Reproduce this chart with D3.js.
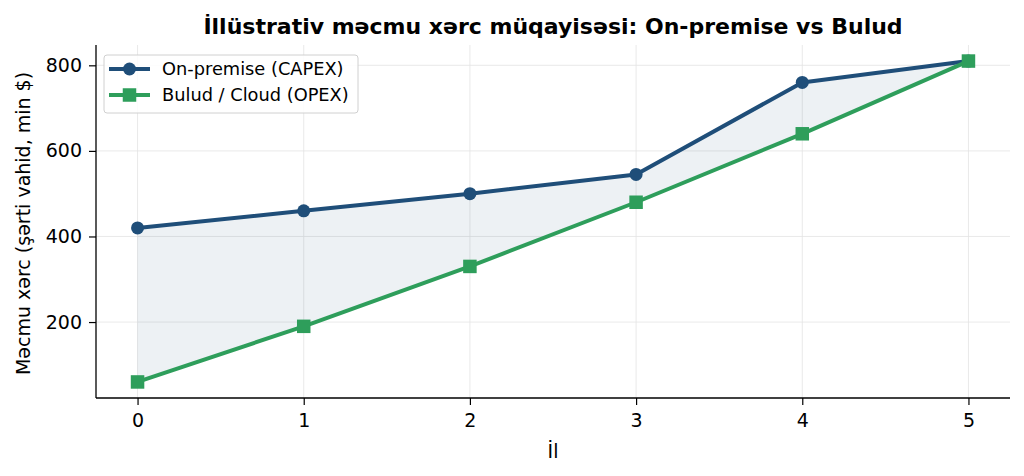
<!DOCTYPE html>
<html lang="az">
<head>
<meta charset="utf-8">
<title>On-premise vs Bulud</title>
<script src="https://d3js.org/d3.v7.min.js"></script>
<style>
  body { margin: 0; background: #fff; }
  text { font-family: "DejaVu Sans", sans-serif; }
</style>
</head>
<body>
<script>
var years = [0, 1, 2, 3, 4, 5];
var onPrem = [420, 460, 500, 545, 760, 810];
var cloud = [60, 190, 330, 480, 640, 810];
var yTicks = [200, 400, 600, 800];
var seriesNames = ["On-premise (CAPEX)", "Bulud / Cloud (OPEX)"];

var width = 1024, height = 476;
var margin = { left: 96, top: 45, right: 14, bottom: 78 };
var innerW = width - margin.left - margin.right;
var innerH = height - margin.top - margin.bottom;

var blue = "#1f4e79", green = "#2e9e5b";

var svg = d3.select("body").append("svg")
    .attr("width", width).attr("height", height);

var g = svg.append("g")
    .attr("transform", `translate(${margin.left},${margin.top})`);

var x = d3.scaleLinear().domain([-0.25, 5.25]).range([0, innerW]);
var y = d3.scaleLinear().domain([22.5, 847.5]).range([innerH, 0]);

// grid
g.selectAll(".vgrid").data(years).enter().append("line")
    .attr("x1", d => x(d)).attr("x2", d => x(d))
    .attr("y1", 0).attr("y2", innerH)
    .attr("stroke", "#e3e3e3").attr("stroke-width", 0.8);
g.selectAll(".hgrid").data(yTicks).enter().append("line")
    .attr("y1", d => y(d)).attr("y2", d => y(d))
    .attr("x1", 0).attr("x2", innerW)
    .attr("stroke", "#e3e3e3").attr("stroke-width", 0.8);

// fill between
var rows = years.map((yr, i) => ({ x: yr, a: onPrem[i], b: cloud[i] }));
g.append("path")
    .datum(rows)
    .attr("d", d3.area().x(d => x(d.x)).y0(d => y(d.b)).y1(d => y(d.a)))
    .attr("fill", blue).attr("fill-opacity", 0.08);

// lines
var line = d3.line().x(d => x(d[0])).y(d => y(d[1]));
g.append("path").datum(years.map((yr, i) => [yr, onPrem[i]]))
    .attr("d", line).attr("fill", "none")
    .attr("stroke", blue).attr("stroke-width", 4).attr("stroke-linejoin", "round");
g.append("path").datum(years.map((yr, i) => [yr, cloud[i]]))
    .attr("d", line).attr("fill", "none")
    .attr("stroke", green).attr("stroke-width", 4).attr("stroke-linejoin", "round");

g.selectAll(".dot").data(years).enter().append("circle")
    .attr("cx", d => x(d)).attr("cy", (d, i) => y(onPrem[i]))
    .attr("r", 6.5).attr("fill", blue);
g.selectAll(".sq").data(years).enter().append("rect")
    .attr("x", d => x(d) - 6.75).attr("y", (d, i) => y(cloud[i]) - 6.75)
    .attr("width", 13.5).attr("height", 13.5).attr("fill", green);

// axes
var xAxis = g.append("g").attr("transform", `translate(0,${innerH})`)
    .call(d3.axisBottom(x).tickValues(years).tickFormat(d3.format("d")).tickSize(7).tickPadding(9));
var yAxis = g.append("g")
    .call(d3.axisLeft(y).tickValues(yTicks).tickSize(7).tickPadding(7));
[xAxis, yAxis].forEach(a => {
  a.selectAll("text").attr("font-size", 19).attr("fill", "#000")
    .style("font-family", "DejaVu Sans");
  a.selectAll("line").attr("stroke", "#000").attr("stroke-width", 1.2);
  a.select(".domain").attr("stroke", "#000").attr("stroke-width", 1.3);
});
xAxis.select(".domain").attr("d", `M0,0H${innerW}`);
yAxis.select(".domain").attr("d", `M0,0V${innerH}`);

// labels
svg.append("text").attr("x", margin.left + innerW / 2).attr("y", 34)
    .attr("text-anchor", "middle").attr("font-size", 22).attr("font-weight", "bold")
    .text("İllüstrativ məcmu xərc müqayisəsi: On-premise vs Bulud");
svg.append("text").attr("x", margin.left + innerW / 2).attr("y", 458)
    .attr("text-anchor", "middle").attr("font-size", 19).text("İl");
svg.append("text")
    .attr("transform", `translate(30,${margin.top + innerH / 2 + 2}) rotate(-90)`)
    .attr("text-anchor", "middle").attr("font-size", 19)
    .text("Məcmu xərc (şərti vahid, min $)");

// legend
var lg = svg.append("g").attr("transform", "translate(104,55)");
lg.append("rect").attr("width", 254).attr("height", 58).attr("rx", 3)
    .attr("fill", "#fff").attr("fill-opacity", 0.85)
    .attr("stroke", "#d0d0d0").attr("stroke-width", 1);
[blue, green].forEach((c, i) => {
  var yy = 14 + i * 26;
  lg.append("line").attr("x1", 5).attr("x2", 46).attr("y1", yy).attr("y2", yy)
    .attr("stroke", c).attr("stroke-width", 4);
  if (i === 0) lg.append("circle").attr("cx", 25.5).attr("cy", yy).attr("r", 6.5).attr("fill", c);
  else lg.append("rect").attr("x", 18.75).attr("y", yy - 6.75).attr("width", 13.5).attr("height", 13.5).attr("fill", c);
  lg.append("text").attr("x", 58).attr("y", yy + 6).attr("font-size", 17.8).text(seriesNames[i]);
});
</script>
</body>
</html>
